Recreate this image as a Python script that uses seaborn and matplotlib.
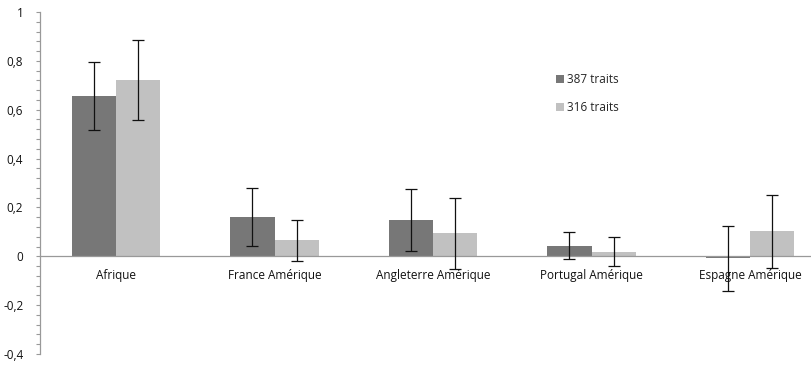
import numpy as np
import pandas as pd
import matplotlib
matplotlib.use("Agg")
import matplotlib.pyplot as plt
from matplotlib.ticker import MultipleLocator, FixedLocator
import seaborn as sns

categories = ["Afrique", "France Amérique", "Angleterre Amérique",
              "Portugal Amérique", "Espagne Amérique"]
series = ["387 traits", "316 traits"]
values_387 = [0.656, 0.161, 0.148, 0.044, -0.009]
values_316 = [0.721, 0.066, 0.094, 0.019, 0.102]
err_387 = [0.138, 0.117, 0.126, 0.055, 0.135]
err_316 = [0.163, 0.084, 0.144, 0.058, 0.150]
ytick_labels = ["-0,4", "-0,2", "0", "0,2", "0,4", "0,6", "0,8", "1"]

df = pd.DataFrame({
    "categorie": categories * 2,
    "serie": [series[0]] * len(categories) + [series[1]] * len(categories),
    "valeur": values_387 + values_316,
})
errors = {series[0]: err_387, series[1]: err_316}
values = {series[0]: values_387, series[1]: values_316}

sns.set_theme(style="white")
plt.rcParams["font.family"] = ["Open Sans", "DejaVu Sans"]

fig = plt.figure(figsize=(8.11, 3.65), dpi=100)
ax = fig.add_axes([40 / 811, 11 / 365, 771 / 811, 342 / 365])

palette = {series[0]: "#777777", series[1]: "#c1c1c1"}
sns.barplot(data=df, x="categorie", y="valeur", hue="serie", order=categories,
            hue_order=series, palette=palette, width=0.56, errorbar=None,
            saturation=1, linewidth=0, ax=ax)

# error bars centred on each bar
for cont, name in zip(ax.containers, series):
    xs = [p.get_x() + p.get_width() / 2 for p in cont.patches]
    ax.errorbar(xs, values[name], yerr=errors[name], fmt="none",
                ecolor="#111111", elinewidth=0.9, capsize=4, capthick=0.9,
                zorder=5)

ax.set_xlim(-0.48, 4.385)
ax.set_ylim(-0.4, 1.0)

ax.yaxis.set_major_locator(FixedLocator(np.linspace(-0.4, 1.0, 8)))
ax.set_yticklabels(ytick_labels)
ax.yaxis.set_minor_locator(MultipleLocator(0.04))
ax.tick_params(axis="y", which="major", length=3, width=0.8, color="#999999",
               pad=9, labelsize=8.5, labelcolor="#111111", left=True)
ax.tick_params(axis="y", which="minor", length=3, width=0.8, color="#999999",
               left=True)

for s in ["top", "right"]:
    ax.spines[s].set_visible(False)
ax.spines["left"].set_color("#999999")
ax.spines["left"].set_linewidth(0.9)
ax.spines["bottom"].set_position(("data", 0))
ax.spines["bottom"].set_color("#999999")
ax.spines["bottom"].set_linewidth(0.9)
ax.tick_params(axis="x", length=0, pad=9.5, labelsize=8.5, labelcolor="#111111")

ax.set_xlabel("")
ax.set_ylabel("")

leg = ax.legend(loc="upper left", bbox_to_anchor=(0.655, 0.853), frameon=False,
                fontsize=8.5, handlelength=0.7, handleheight=0.7,
                handletextpad=0.3, labelspacing=1.3)

fig.savefig("out.png", dpi=100)
